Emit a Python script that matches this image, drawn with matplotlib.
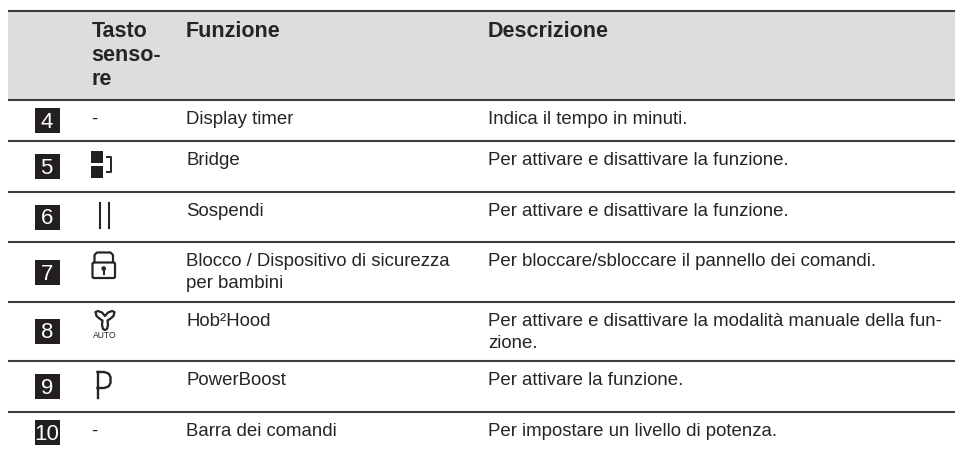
import matplotlib
matplotlib.use("Agg")
import matplotlib.pyplot as plt
from matplotlib.patches import Rectangle, FancyBboxPatch, Circle, Polygon

plt.rcParams['font.family'] = ['Liberation Sans', 'DejaVu Sans']

TEXT = '#262425'
RULE = '#3c3b3d'
HEAD = '#dcddde'

headers = ['Tasto\nsenso-\nre', 'Funzione', 'Descrizione']
numbers = ['4', '5', '6', '7', '8', '9', '10']
keys = ['-', '', '', '', '', '', '-']
functions = [['Display timer'], ['Bridge'], ['Sospendi'],
             ['Blocco / Dispositivo di sicurezza', 'per bambini'],
             ['Hob²Hood'], ['PowerBoost'], ['Barra dei comandi']]
descriptions = [['Indica il tempo in minuti.'],
                ['Per attivare e disattivare la funzione.'],
                ['Per attivare e disattivare la funzione.'],
                ['Per bloccare/sbloccare il pannello dei comandi.'],
                ['Per attivare e disattivare la modalità manuale della fun-', 'zione.'],
                ['Per attivare la funzione.'],
                ['Per impostare un livello di potenza.']]

# layout in pixels
rules = [11, 99.5, 141, 192, 242, 301.5, 361, 412]
baselines = [124, 165, 216, 266, 326, 385, 436]
badge_tops = [108, 154, 205, 260, 319, 374, 420]
X0, X1 = 8, 955
COL_KEY, COL_FUNC, COL_DESC = 91.5, 186, 488
LINE = 22
BODY = 13.4
BOLD = 15.5

fig = plt.figure(figsize=(9.55, 4.49), dpi=100)
ax = fig.add_axes([0, 0, 1, 1])
ax.set_xlim(0, 955)
ax.set_ylim(449, 0)
ax.axis('off')

ax.add_patch(Rectangle((X0, rules[0]), X1 - X0, rules[1] - rules[0], fc=HEAD, ec='none'))
for y in rules:
    ax.plot([X0, X1], [y, y], color=RULE, lw=1.5, solid_capstyle='butt')

# header
for i, line in enumerate(headers[0].split('\n')):
    ax.text(COL_KEY, 37 + i * 24, line, fontsize=BOLD, fontweight='bold', color=TEXT, va='baseline')
ax.text(COL_FUNC, 37, headers[1], fontsize=BOLD, fontweight='bold', color=TEXT, va='baseline')
ax.text(COL_DESC, 37, headers[2], fontsize=BOLD, fontweight='bold', color=TEXT, va='baseline')

# rows
for num, key, func, desc, base, top in zip(numbers, keys, functions, descriptions, baselines, badge_tops):
    ax.add_patch(Rectangle((35, top), 25, 25, fc='#231f20', ec='none'))
    ax.text(46.7, top + 19.5, num, fontsize=16, color='white', ha='center', va='baseline')
    if key:
        ax.text(COL_KEY, base, key, fontsize=BODY, color=TEXT, va='baseline')
    for i, line in enumerate(func):
        ax.text(COL_FUNC, base + i * LINE, line, fontsize=BODY, color=TEXT, va='baseline')
    for i, line in enumerate(desc):
        ax.text(COL_DESC, base + i * LINE, line, fontsize=BODY, color=TEXT, va='baseline')

# icon: bridge
ax.add_patch(Rectangle((91, 151), 12.3, 12.3, fc='#231f20', ec='none'))
ax.add_patch(Rectangle((91, 165.5), 12.3, 12.3, fc='#231f20', ec='none'))
ax.plot([106.5, 111, 111, 106.5], [156.5, 156.5, 171.5, 171.5], color=TEXT, lw=1.4)
# icon: pause
ax.plot([100, 100], [203, 228], color=TEXT, lw=1.5)
ax.plot([108.7, 108.7], [203, 228], color=TEXT, lw=1.5)
# icon: lock
ax.add_patch(FancyBboxPatch((92.5, 262.5), 22.5, 15.5, boxstyle='round,pad=0,rounding_size=1.5',
                            fc='none', ec=TEXT, lw=1.6))
ax.plot([94.5, 94.5, 97, 110.5, 113, 113], [262, 255, 252.5, 252.5, 255, 262], color=TEXT, lw=1.6)
ax.add_patch(Circle((103.7, 268.5), 2.3, fc=TEXT, ec='none'))
ax.plot([103.7, 103.7], [269, 273.5], color=TEXT, lw=1.5)
# icon: fan + AUTO
fan = [(95.5, 312), (98, 311), (102, 312.5), (105, 316), (108, 312.5), (112, 311), (114.5, 312),
       (113.5, 316), (110, 319), (107.5, 320.5), (108, 325), (107, 329), (105, 330), (103, 329),
       (102, 325), (102.5, 320.5), (100, 319), (96.5, 316)]
ax.add_patch(Polygon(fan, closed=True, fc='none', ec=TEXT, lw=1.6, joinstyle='round'))
ax.text(104.5, 337.5, 'AUTO', fontsize=6.2, color=TEXT, ha='center', va='baseline')
# icon: P
ax.plot([97.5, 97.5], [397.5, 372], color=TEXT, lw=1.7)
ax.plot([97.5, 104, 108.5, 110.5, 110.5, 108.5, 104, 97.5],
        [372, 372, 373.5, 377, 383, 386.5, 388, 388], color=TEXT, lw=1.7)

fig.savefig('out.png', dpi=100)
